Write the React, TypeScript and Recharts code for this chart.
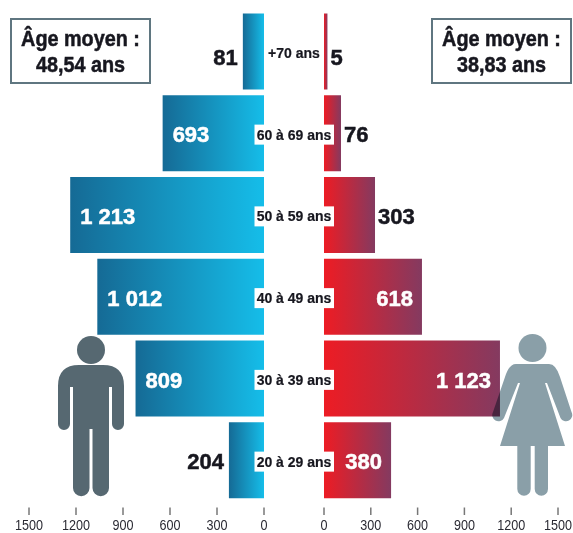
import React from 'react';
import { Bar, BarChart, LabelList, XAxis, YAxis } from 'recharts';

const ageGroups = ['+70 ans', '60 à 69 ans', '50 à 59 ans', '40 à 49 ans', '30 à 39 ans', '20 à 29 ans'];
// printed figures
const menCounts = [81, 693, 1213, 1012, 809, 204];
const womenCounts = [5, 76, 303, 618, 1123, 380];
// bar lengths read against the axis (the source does not draw them to its printed figures)
const menLengths = [135, 647, 1237, 1064, 820, 224];
const womenLengths = [22, 109, 327, 628, 1128, 430];
const axisTicks = [0, 300, 600, 900, 1200, 1500];

const FONT = '"Liberation Sans", Arial, sans-serif';
const INK = '#17171f';

const menData = ageGroups.map((age, i) => ({ age, length: menLengths[i], count: menCounts[i] }));
const womenData = ageGroups.map((age, i) => ({ age, length: womenLengths[i], count: womenCounts[i] }));

const formatCount = (n: number) => String(n).replace(/(\d)(\d{3})$/, '$1 $2');

const AxisTick = ({ x, payload }: any) => (
  <g>
    <line x1={x} x2={x} y1={507.5} y2={515} stroke="#777" strokeWidth={1.5} />
    <text
      transform={`translate(${x} 530) scale(0.9 1)`}
      textAnchor="middle"
      fontFamily={FONT}
      fontSize={14}
      fill="#2a2a33"
    >
      {payload.value}
    </text>
  </g>
);

const AgeTick = ({ x, y, payload, index }: any) => (
  <g>
    {index > 0 && <rect x={x - 39.5} y={y - 8.5} width={80} height={20} fill="#fff" />}
    <text
      x={x}
      y={y + 6.5}
      textAnchor="middle"
      fontFamily={FONT}
      fontWeight={700}
      fontSize={14}
      fill={INK}
      stroke={INK}
      strokeWidth={0.2}
    >
      {payload.value}
    </text>
  </g>
);

const makeCountLabel = (counts: number[], side: 'left' | 'right') => (props: any) => {
  const { x, y, width, height, index } = props;
  const w = Math.abs(width);
  const inside = w >= 60;
  const outerEdge = side === 'left' ? Math.min(x, x + width) : Math.max(x, x + width);
  let px: number;
  let anchor: 'start' | 'end';
  if (side === 'left') {
    px = inside ? outerEdge + 10 : outerEdge - 5;
    anchor = inside ? 'start' : 'end';
  } else {
    px = inside ? outerEdge - 9 : outerEdge + 3;
    anchor = inside ? 'end' : 'start';
  }
  const color = inside ? '#fff' : INK;
  return (
    <text
      x={px}
      y={y + height / 2 + (index === 0 ? 13 : 9)}
      textAnchor={anchor}
      fontFamily={FONT}
      fontWeight={700}
      fontSize={22}
      fill={color}
      stroke={color}
      strokeWidth={0.5}
    >
      {formatCount(counts[index])}
    </text>
  );
};

const AgeBox = ({ left, lines }: { left: number; lines: string[] }) => (
  <div
    style={{
      position: 'absolute',
      left,
      top: 18,
      width: 141,
      height: 66,
      boxSizing: 'border-box',
      border: '2.5px solid #5f7680',
      fontFamily: FONT,
      fontWeight: 700,
      fontSize: 22,
      lineHeight: '25.5px',
      color: INK,
      textAlign: 'center',
      paddingTop: 6,
      whiteSpace: 'nowrap',
      WebkitTextStroke: '0.5px #17171f',
    }}
  >
    {lines.map((l) => (
      <div key={l} style={{ transform: 'scaleX(0.9)' }}>
        {l}
      </div>
    ))}
  </div>
);

export default function App() {
  return (
    <div style={{ position: 'absolute', left: 0, top: 0, width: 573, height: 533, background: '#fff', overflow: 'hidden' }}>
      <div style={{ position: 'absolute', left: 0, top: 0 }}>
        <BarChart
          width={280}
          height={533}
          layout="vertical"
          data={menData}
          barCategoryGap={3}
          margin={{ top: 10.5, right: 16, bottom: 0, left: 29 }}
        >
          <defs>
            <linearGradient id="menFill" x1="0" y1="0" x2="1" y2="0">
              <stop offset="0%" stopColor="#156a95" />
              <stop offset="100%" stopColor="#15bde9" />
            </linearGradient>
          </defs>
          <XAxis
            type="number"
            reversed
            domain={[0, 1500]}
            ticks={axisTicks}
            height={32}
            axisLine={false}
            tickLine={false}
            interval={0}
            tick={<AxisTick />}
          />
          <YAxis type="category" dataKey="age" hide />
          <Bar dataKey="length" fill="url(#menFill)" isAnimationActive={false}>
            <LabelList dataKey="count" content={makeCountLabel(menCounts, 'left')} />
          </Bar>
        </BarChart>
      </div>

      <div style={{ position: 'absolute', left: 304, top: 0 }}>
        <BarChart
          width={269}
          height={533}
          layout="vertical"
          data={womenData}
          barCategoryGap={3}
          margin={{ top: 10.5, right: 15, bottom: 0, left: 20 }}
        >
          <defs>
            <linearGradient id="womenFill" x1="0" y1="0" x2="1" y2="0">
              <stop offset="0%" stopColor="#ed1c24" />
              <stop offset="100%" stopColor="#843a60" />
            </linearGradient>
          </defs>
          <XAxis
            type="number"
            domain={[0, 1500]}
            ticks={axisTicks}
            height={32}
            axisLine={false}
            tickLine={false}
            interval={0}
            tick={<AxisTick />}
          />
          <YAxis type="category" dataKey="age" hide />
          <Bar dataKey="length" fill="url(#womenFill)" isAnimationActive={false}>
            <LabelList dataKey="count" content={makeCountLabel(womenCounts, 'right')} />
          </Bar>
        </BarChart>
      </div>

      {/* age labels sit over both charts and notch the bars */}
      <div style={{ position: 'absolute', left: 254, top: 0 }}>
        <BarChart
          width={80}
          height={533}
          layout="vertical"
          data={menData}
          margin={{ top: 10.5, right: 0, bottom: 32, left: 0 }}
        >
          <XAxis type="number" hide domain={[0, 1]} />
          <YAxis
            type="category"
            dataKey="age"
            width={40}
            axisLine={false}
            tickLine={false}
            interval={0}
            tickMargin={0}
            tickSize={0}
            tick={<AgeTick />}
          />
        </BarChart>
      </div>

      <svg width={573} height={533} style={{ position: 'absolute', left: 0, top: 0, pointerEvents: 'none' }}>
        <g fill="#566871">
          <circle cx={91} cy={350} r={14} />
          <path d="M58 386 Q58 365 79 365 H103 Q124 365 124 386 V424 A6 6 0 0 1 112 424 V387 H109 V488 A8.25 8.25 0 0 1 92.5 488 V429 H89.5 V488 A8.25 8.25 0 0 1 73 488 V387 H70 V424 A6 6 0 0 1 58 424 Z" />
        </g>
        <g fill="#8a9fa8" style={{ mixBlendMode: 'multiply' }}>
          <circle cx={532.5} cy={348} r={14} />
          <path d="M516 364 H549 Q556 364 560 377 L571.5 412 A6 6 0 0 1 560.5 418 L547 383 H545 L565 446 H548 V489 A6.65 6.65 0 0 1 534.7 489 V446 H530.7 V489 A6.65 6.65 0 0 1 517.3 489 V446 H500 L520 383 H518 L504 418 A6 6 0 0 1 493 412 L505 377 Q509 364 516 364 Z" />
        </g>
      </svg>

      <AgeBox left={10} lines={['Âge moyen :', '48,54 ans']} />
      <AgeBox left={431} lines={['Âge moyen :', '38,83 ans']} />
    </div>
  );
}
